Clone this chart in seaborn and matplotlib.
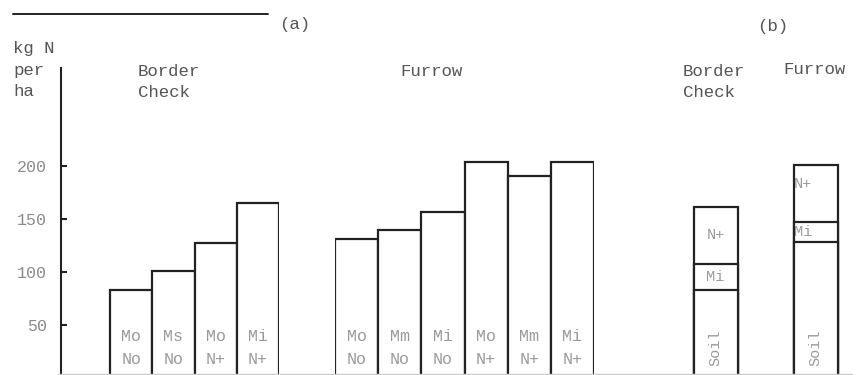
import matplotlib
matplotlib.use("Agg")
import numpy as np
import matplotlib.pyplot as plt
import seaborn as sns

# ==========================================
# Datos (kg N por ha)
# ==========================================
border_labels = ["Mo\nNo", "Ms\nNo", "Mo\nN+", "Mi\nN+"]
border_n = [83, 101, 127, 165]

furrow_labels = ["Mo\nNo", "Mm\nNo", "Mi\nNo", "Mo\nN+", "Mm\nN+", "Mi\nN+"]
furrow_n = [131, 140, 157, 204, 191, 204]

# (b) barras apiladas: suelo + mineralizado + fertilizante
b_groups = ["Border\nCheck", "Furrow"]
b_soil = [83, 128]
b_mi = [25, 19]
b_nplus = [53, 54]

y_ticks = [50, 100, 150, 200]

# ==========================================
# Estilo
# ==========================================
sns.set_style("white")
plt.rcParams["font.family"] = ["Liberation Mono", "DejaVu Sans Mono"]

W, H = 856, 375
fig = plt.figure(figsize=(W / 100, H / 100), dpi=100)

edge = "#222222"
lw = 1.6
ylim = (2.8, 292.5)
ax_top = 68  # pixel donde acaba el eje y


def rect(x0, x1):
    return [x0 / W, 0, (x1 - x0) / W, (H - ax_top) / H]


def fx(x):
    return x / W


def fy(y):
    return 1 - y / H


ax_bc = fig.add_axes(rect(61, 279))
ax_fu = fig.add_axes(rect(335, 594))
ax_b = fig.add_axes(rect(665.5, 855.5))

# (a) border check
sns.barplot(x=border_labels, y=border_n, ax=ax_bc, width=1, color="white",
            edgecolor=edge, linewidth=lw, saturation=1)
ax_bc.set_xlim(-1.66, 3.5)

# (a) furrow
sns.barplot(x=furrow_labels, y=furrow_n, ax=ax_fu, width=1, color="white",
            edgecolor=edge, linewidth=lw, saturation=1)
ax_fu.set_xlim(-0.5, 5.5)

# (b) apiladas: se dibuja el total y encima los acumulados menores
cum_mi = np.array(b_soil) + np.array(b_mi)
cum_tot = cum_mi + np.array(b_nplus)
for vals in [cum_tot, cum_mi, b_soil]:
    sns.barplot(x=b_groups, y=list(vals), ax=ax_b, width=0.44, color="white",
                edgecolor=edge, linewidth=lw, saturation=1)
ax_b.set_xlim(-0.5, 1.4)

for ax in [ax_bc, ax_fu, ax_b]:
    ax.set_ylim(*ylim)
    ax.patch.set_alpha(0)
    for s in ax.spines.values():
        s.set_visible(False)
    ax.set_xticks([])
    ax.set_xlabel("")
    ax.set_ylabel("")
    ax.set_yticks([])

ax_bc.spines["left"].set_visible(True)
ax_bc.spines["left"].set_color(edge)
ax_bc.spines["left"].set_linewidth(1.5)
ax_bc.set_yticks(y_ticks)
ax_bc.tick_params(axis="y", direction="in", length=4, width=1.5, color=edge,
                  labelcolor="#8a8a8a", labelsize=12, pad=10, left=True)

# etiquetas dentro de las barras
lab_kw = dict(ha="center", va="center", color="#9a9a9a", fontsize=12, linespacing=1.65)
for i, t in enumerate(border_labels):
    ax_bc.text(i, (378 - 348) / 1.06, t, **lab_kw)
for i, t in enumerate(furrow_labels):
    ax_fu.text(i, (378 - 348) / 1.06, t, **lab_kw)

seg_kw = dict(color="#9a9a9a", fontsize=11)
ax_b.text(0, b_soil[0] + b_mi[0] + b_nplus[0] / 2, "N+", ha="center", va="center", **seg_kw)
ax_b.text(0, b_soil[0] + b_mi[0] / 2, "Mi", ha="center", va="center", **seg_kw)
ax_b.text(0.785, cum_mi[1] + 2 * b_nplus[1] / 3, "N+", ha="left", va="center", **seg_kw)
ax_b.text(0.785, b_soil[1] + b_mi[1] / 2, "Mi", ha="left", va="center", **seg_kw)
for i in range(2):
    ax_b.text(i, (378 - 348) / 1.06, "Soil", ha="center", va="center",
              rotation=90, **seg_kw)

# textos del encabezado
head_kw = dict(fontsize=12.5, color="#555555", va="center", linespacing=1.55)
fig.text(fx(13), fy(70), "kg N\nper\nha", ha="left", **head_kw)
fig.text(fx(138), fy(82), "Border\nCheck", ha="left", **head_kw)
fig.text(fx(400), fy(72), "Furrow", ha="left", **head_kw)
fig.text(fx(683), fy(82), "Border\nCheck", ha="left", **head_kw)
fig.text(fx(783), fy(69), "Furrow", ha="left", **head_kw)
fig.text(fx(279), fy(24), "(a)", ha="left", **head_kw)
fig.text(fx(757), fy(26), "(b)", ha="left", **head_kw)

# línea superior y línea base tenue
fig.add_artist(plt.Line2D([fx(13), fx(268)], [fy(14), fy(14)], color=edge,
                          linewidth=1.4, transform=fig.transFigure))
fig.add_artist(plt.Line2D([fx(58), fx(852)], [fy(374), fy(374)], color="#cccccc",
                          linewidth=1.0, transform=fig.transFigure))

fig.savefig("out.png", dpi=100)
